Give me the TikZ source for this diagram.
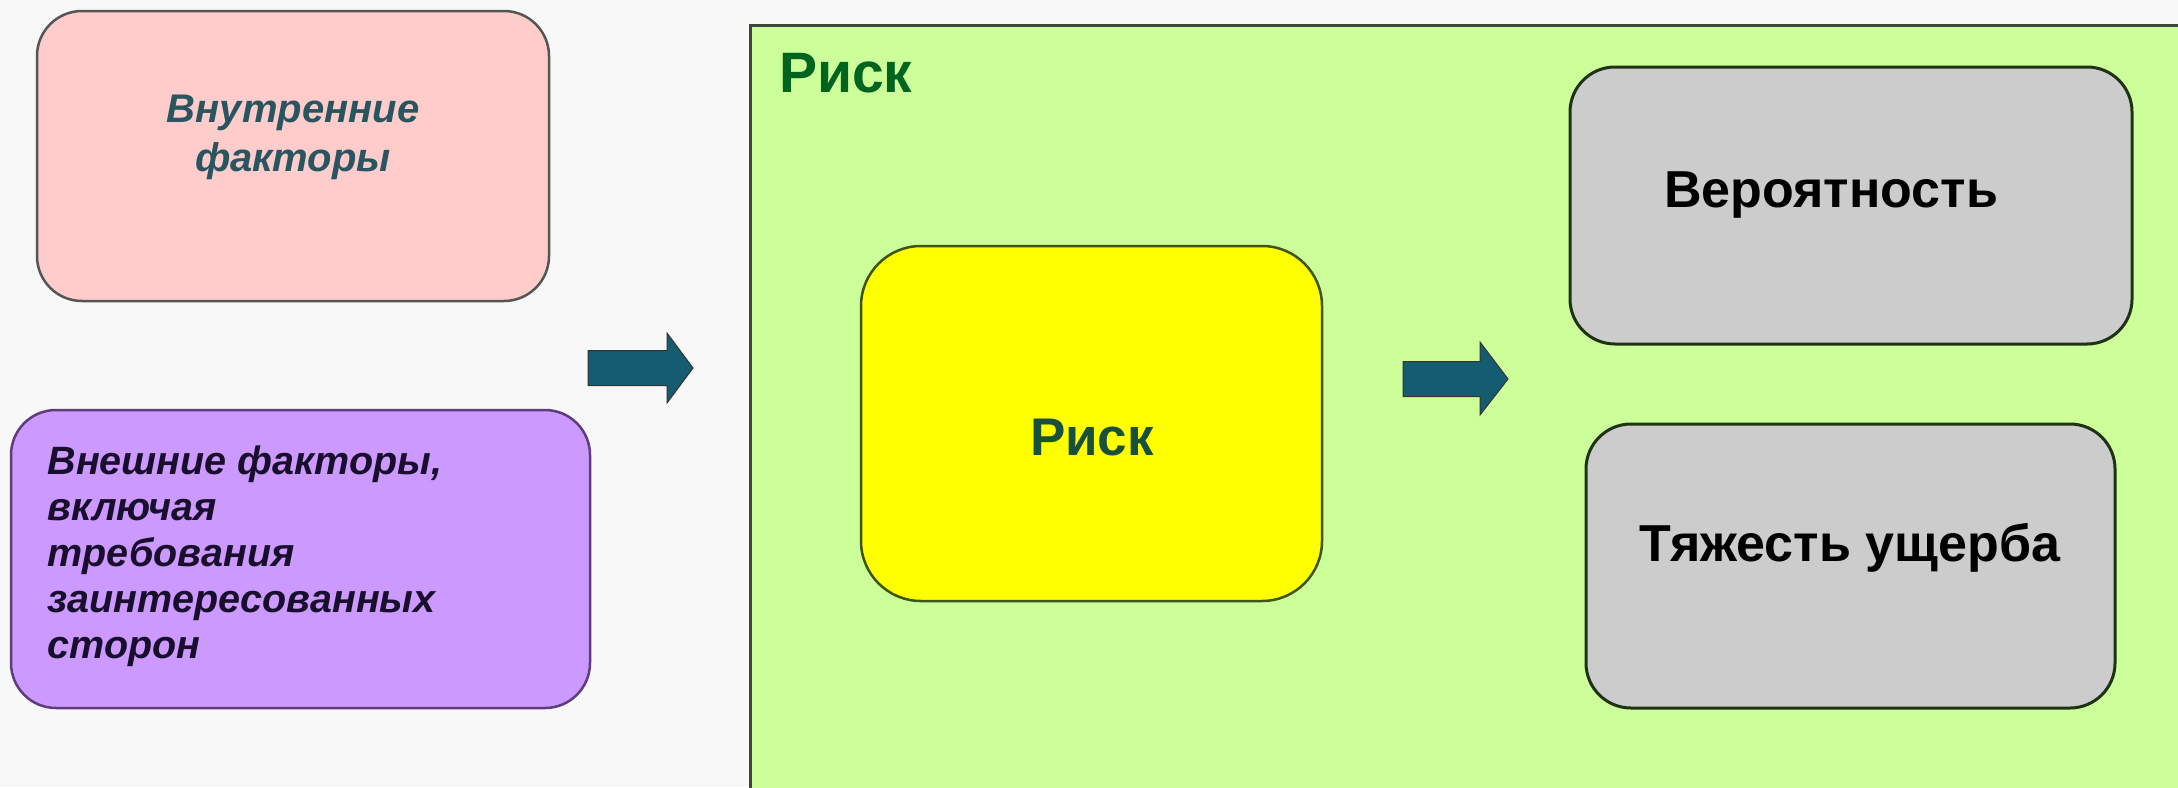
\documentclass[tikz,border=0pt]{standalone}
\usepackage{fontspec}
\setmainfont{Liberation Sans}
\definecolor{bgc}{RGB}{248,248,248}
\definecolor{pinkc}{RGB}{255,204,204}
\definecolor{purplec}{RGB}{204,153,255}
\definecolor{greenc}{RGB}{204,255,153}
\definecolor{yellowc}{RGB}{255,255,0}
\definecolor{greyc}{RGB}{204,204,204}
\definecolor{arrowc}{RGB}{22,92,112}
\definecolor{tealtext}{RGB}{40,85,95}
\definecolor{purpletext}{RGB}{25,15,45}
\definecolor{titlegreen}{RGB}{0,100,30}
\definecolor{risktext}{RGB}{25,80,60}
\definecolor{edgec}{RGB}{60,70,60}
\definecolor{pinkedge}{RGB}{85,85,85}
\definecolor{purpleedge}{RGB}{95,60,125}
\definecolor{yellowedge}{RGB}{60,85,20}
\definecolor{greyedge}{RGB}{30,50,20}
\tikzset{
  boxstyle/.style={draw=edgec, line width=2.5pt, rounded corners=45pt, inner sep=0pt},
  blockarrow/.style={fill=arrowc, draw=black!80, line width=1pt, line join=miter}
}
\begin{document}
\begin{tikzpicture}[x=1pt,y=-1pt]
\fill[bgc] (0,0) rectangle (2178,787);
\useasboundingbox (0,0) rectangle (2178,787);
% big green area
\draw[fill=greenc, draw=edgec, line width=3pt] (750,25) rectangle (2210,820);
\node[anchor=base west, inner sep=0pt, text=titlegreen, font=\bfseries\fontsize{57}{64}\selectfont] (title) at (779,92) {Риск};
% left boxes
\path[boxstyle, draw=pinkedge, fill=pinkc] (37,11) rectangle (549,301);
\node[text=tealtext, font=\bfseries\itshape\fontsize{40}{49}\selectfont, align=center] (inner) at (293,137) {Внутренние\\факторы};
\path[boxstyle, draw=purpleedge, fill=purplec] (11,410) rectangle (590,708);
\node[anchor=west, text=purpletext, font=\bfseries\itshape\fontsize{39.5}{46}\selectfont, align=left] (outer) at (44,556) {Внешние факторы,\\включая\\требования\\заинтересованных\\сторон};
% yellow box
\node[boxstyle, draw=yellowedge, rounded corners=60pt, fill=yellowc, minimum width=461pt, minimum height=355pt] (risk) at (1091.5,423.5) {};
\node[text=risktext, font=\bfseries\fontsize{53}{60}\selectfont] at (1092,438) {Риск};
% grey boxes
\node[boxstyle, draw=greyedge, line width=3pt, fill=greyc, minimum width=562pt, minimum height=277pt] (prob) at (1851,205.5) {};
\node[font=\bfseries\fontsize{52}{60}\selectfont] at (1831,195) {Вероятность};
\node[boxstyle, draw=greyedge, line width=3pt, fill=greyc, minimum width=529pt, minimum height=284pt] (sev) at (1850.5,566) {};
\node[font=\bfseries\fontsize{52}{60}\selectfont] at (1850,548) {Тяжесть ущерба};
% arrows
\coordinate (a1) at (641,368);
\coordinate (a2) at (1455.5,379);
\draw[blockarrow] ([shift={(-53,-17.5)}]a1) -- ([shift={(26,-17.5)}]a1) -- ([shift={(26,-35)}]a1)
  -- ([shift={(52,0)}]a1) -- ([shift={(26,35)}]a1) -- ([shift={(26,17.5)}]a1) -- ([shift={(-53,17.5)}]a1) -- cycle;
\draw[blockarrow] ([shift={(-52.5,-17.5)}]a2) -- ([shift={(24.5,-17.5)}]a2) -- ([shift={(24.5,-37)}]a2)
  -- ([shift={(52.5,0)}]a2) -- ([shift={(24.5,36)}]a2) -- ([shift={(24.5,17.5)}]a2) -- ([shift={(-52.5,17.5)}]a2) -- cycle;
\end{tikzpicture}
\end{document}
